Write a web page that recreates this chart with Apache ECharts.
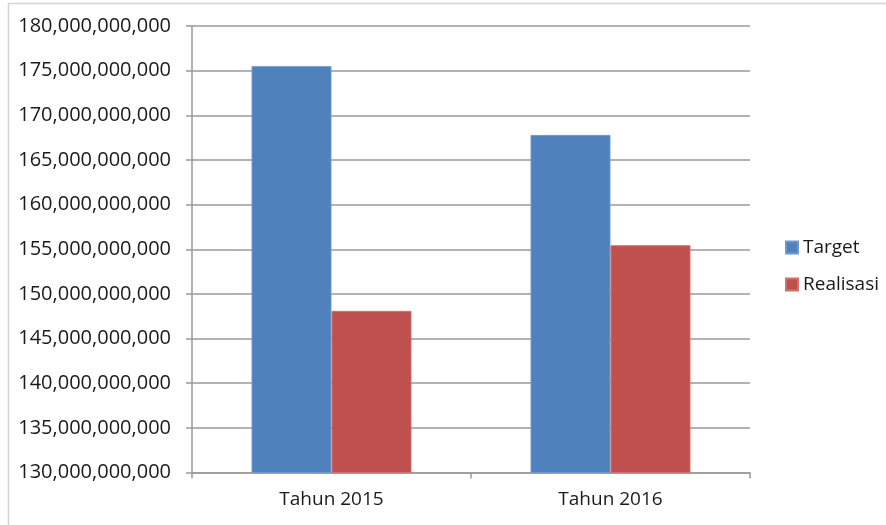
<!DOCTYPE html>
<html>
<head>
<meta charset="utf-8">
<script src="https://cdn.jsdelivr.net/npm/echarts@6/dist/echarts.min.js"></script>
<style>
html,body{margin:0;padding:0;background:#fff;}
#chart{width:886px;height:525px;}
</style>
</head>
<body>
<div id="chart"></div>
<script>
var categories = ['Tahun 2015', 'Tahun 2016'];
var seriesNames = ['Target', 'Realisasi'];
var targetValues = [175500000000, 167800000000];
var realisasiValues = [148100000000, 155450000000];
var yMin = 130000000000, yMax = 180000000000, yStep = 5000000000;

function fmt(v){ return String(Math.round(v)).replace(/\B(?=(\d{3})+(?!\d))/g, ','); }

var chart = echarts.init(document.getElementById('chart'), null, {renderer:'canvas'});
var font = '"Open Sans", sans-serif';
chart.setOption({
  animation: false,
  backgroundColor: '#ffffff',
  graphic: [{
    type: 'rect', silent: true, z: -1,
    shape: {x: 8.5, y: 3.5, width: 1000, height: 700},
    style: {fill: 'none', stroke: '#d4d4d4', lineWidth: 1.5}
  }],
  grid: {left: 192, right: 136, top: 26, bottom: 52.5, containLabel: false},
  legend: {
    orient: 'vertical', left: 785, top: 238, padding: 0,
    itemWidth: 12, itemHeight: 12, itemGap: 18,
    icon: 'rect',
    textStyle: {fontFamily: font, fontSize: 19, color: '#1a1a1a'},
    data: seriesNames
  },
  xAxis: {
    type: 'category', data: categories,
    axisLine: {lineStyle: {color: '#9a9a9a', width: 1.5}},
    axisTick: {show: true, length: 6, alignWithLabel: false, lineStyle: {color: '#9a9a9a', width: 1.5}},
    axisLabel: {fontFamily: font, fontSize: 19, color: '#1a1a1a', margin: 18}
  },
  yAxis: {
    type: 'value', min: yMin, max: yMax, interval: yStep,
    axisLine: {show: true, lineStyle: {color: '#9a9a9a', width: 1.5}},
    axisTick: {show: true, length: 6, lineStyle: {color: '#9a9a9a', width: 1.5}},
    splitLine: {lineStyle: {color: '#9a9a9a', width: 1.5}},
    axisLabel: {fontFamily: font, fontSize: 20, color: '#1a1a1a', margin: 21, formatter: fmt}
  },
  series: [
    {name: seriesNames[0], type: 'bar', data: targetValues, barWidth: 80, barGap: '0%',
     itemStyle: {color: '#4F81BD', borderColor: '#6f98cc', borderWidth: 1}},
    {name: seriesNames[1], type: 'bar', data: realisasiValues, barWidth: 80, barGap: '0%',
     itemStyle: {color: '#C0504D', borderColor: '#cf706d', borderWidth: 1}}
  ]
});
</script>
</body>
</html>
